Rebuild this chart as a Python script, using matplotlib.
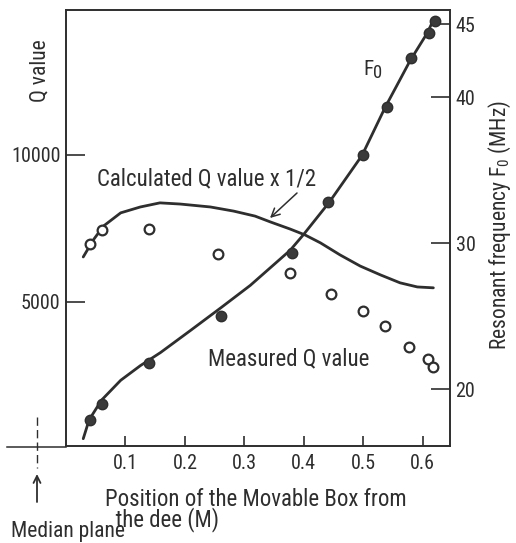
import matplotlib
matplotlib.use('Agg')
import matplotlib.pyplot as plt
from matplotlib.ticker import FixedLocator, FixedFormatter
from matplotlib.lines import Line2D
from matplotlib.patches import FancyArrowPatch

# ---- data ----
f0_pos = [0.04, 0.06, 0.14, 0.26, 0.38, 0.44, 0.50, 0.54, 0.58, 0.61, 0.62]
f0_meas = [17.9, 19.0, 21.8, 25.0, 29.3, 32.8, 36.0, 39.3, 42.7, 44.4, 45.2]

q_pos = [0.04, 0.061, 0.139, 0.256, 0.377, 0.445, 0.50, 0.537, 0.577, 0.609, 0.618]
q_meas = [6970, 7450, 7480, 6630, 5990, 5270, 4690, 4180, 3470, 3060, 2790]

calc_pos = [0.029, 0.046, 0.063, 0.092, 0.125, 0.158, 0.192, 0.243, 0.282, 0.318,
            0.344, 0.377, 0.402, 0.428, 0.461, 0.495, 0.529, 0.562, 0.591, 0.618]
calc_q_half = [6530, 7110, 7580, 8030, 8230, 8370, 8330, 8230, 8090, 7920,
               7720, 7480, 7280, 7010, 6600, 6220, 5920, 5650, 5510, 5480]

fit_pos = [0.029, 0.039, 0.060, 0.092, 0.125, 0.159, 0.209, 0.260, 0.310, 0.377,
           0.399, 0.443, 0.498, 0.537, 0.562, 0.579, 0.608, 0.616]
fit_f0 = [16.6, 17.9, 19.25, 20.6, 21.6, 22.5, 24.0, 25.55, 27.1, 29.5,
          30.55, 32.8, 36.0, 39.3, 41.2, 42.5, 44.4, 45.1]

x_ticks = [0.1, 0.2, 0.3, 0.4, 0.5, 0.6]
x_ticklabels = ['0.1', '0.2', '0.3', '0.4', '0.5', '0.6']
q_ticks = [5000, 10000]
q_ticklabels = ['5000', '10000']
f_ticks = [20, 30, 40]
f_ticklabels = ['20', '30', '40']
f_minor = [45]
f_minor_labels = ['45']

# ---- style ----
W, H = 516, 543
INK = '#2e2e2e'
plt.rcParams['font.family'] = ['Roboto Condensed', 'PT Sans Narrow', 'Archivo Narrow', 'DejaVu Sans']
plt.rcParams['mathtext.fontset'] = 'custom'
plt.rcParams['text.color'] = INK
FS_TICK = 14.5
FS_TEXT = 16.5

def fx(px):
    return px / W

def fy(py):
    return 1 - py / H

fig = plt.figure(figsize=(W / 100, H / 100), dpi=100)
ax = fig.add_axes([fx(66), fy(446), fx(450) - fx(66), fy(10) - fy(446)])
ax2 = ax.twinx()

ax.set_xlim(0, 0.646)
ax.set_ylim(100, 14930)
ax2.set_ylim(16.1, 45.96)

for a in (ax, ax2):
    for s in a.spines.values():
        s.set_linewidth(1.2)
        s.set_color(INK)

# curves
ax.plot(calc_pos, calc_q_half, color=INK, lw=2.0, solid_capstyle='round', zorder=3)
ax2.plot(fit_pos, fit_f0, color=INK, lw=2.0, solid_capstyle='round', zorder=3)

# points
ax.plot(q_pos, q_meas, linestyle='none', marker='o', ms=7, mfc='white',
        mec=INK, mew=1.6, zorder=4)
ax2.plot(f0_pos, f0_meas, linestyle='none', marker='o', ms=7.5, mfc='#3a3a3a',
         mec=INK, mew=1.0, zorder=4)

# ticks
ax.xaxis.set_major_locator(FixedLocator(x_ticks))
ax.xaxis.set_major_formatter(FixedFormatter(x_ticklabels))
ax.yaxis.set_major_locator(FixedLocator(q_ticks))
ax.yaxis.set_major_formatter(FixedFormatter(q_ticklabels))
ax.tick_params(axis='x', direction='in', length=7, width=1.2, color=INK,
               labelsize=FS_TICK, labelcolor=INK, pad=6)
ax.tick_params(axis='y', direction='in', length=14, width=1.2, color=INK,
               labelsize=FS_TICK, labelcolor=INK, pad=4)

ax2.yaxis.set_major_locator(FixedLocator(f_ticks))
ax2.yaxis.set_major_formatter(FixedFormatter(f_ticklabels))
ax2.yaxis.set_minor_locator(FixedLocator(f_minor))
ax2.yaxis.set_minor_formatter(FixedFormatter(f_minor_labels))
ax2.tick_params(axis='y', which='major', direction='in', length=14, width=1.2,
                color=INK, labelsize=FS_TICK, labelcolor=INK, pad=4)
ax2.tick_params(axis='y', which='minor', direction='in', length=7, width=1.2,
                color=INK, labelsize=FS_TICK, labelcolor=INK, pad=4)

# axis labels as text
fig.text(fx(40), fy(71), 'Q value', rotation=90, ha='center', va='center', fontsize=15.5)
fig.text(fx(500), fy(225), 'Resonant frequency F$_{\\mathregular{0}}$ (MHz)', rotation=90,
         ha='center', va='center', fontsize=15.5)

fig.text(fx(105), fy(488), 'Position of the Movable Box from\n  the dee (M)', ha='left',
         va='top', multialignment='left', linespacing=0.82, fontsize=FS_TEXT)
fig.text(fx(11), fy(537), 'Median plane', ha='left', va='baseline', fontsize=15.5)

# in-plot annotations
fig.text(fx(97), fy(185), 'Calculated Q value x 1/2', ha='left', va='baseline', fontsize=FS_TEXT)
fig.text(fx(208), fy(365), 'Measured Q value', ha='left', va='baseline', fontsize=FS_TEXT)
fig.text(fx(363), fy(75), 'F', ha='left', va='baseline', fontsize=15)
fig.text(fx(373), fy(78), '0', ha='left', va='baseline', fontsize=13.5)

fig.add_artist(FancyArrowPatch(
    (fx(297), fy(193)), (fx(270), fy(218)), transform=fig.transFigure,
    arrowstyle='->,head_length=6,head_width=3', color=INK, lw=1.1,
    shrinkA=0, shrinkB=0))

# median plane marks outside the axes
fig.add_artist(Line2D([fx(7), fx(66)], [fy(447), fy(447)], transform=fig.transFigure,
                      color=INK, lw=1.1))
fig.add_artist(Line2D([fx(37), fx(37)], [fy(417), fy(468)], transform=fig.transFigure,
                      color=INK, lw=1.0, linestyle=(0, (6, 3))))
fig.add_artist(FancyArrowPatch(
    (fx(37), fy(502)), (fx(37), fy(474)), transform=fig.transFigure,
    arrowstyle='->,head_length=5,head_width=2.5', color=INK, lw=1.3,
    shrinkA=0, shrinkB=0))

fig.savefig('out.png', dpi=100, facecolor='white')
